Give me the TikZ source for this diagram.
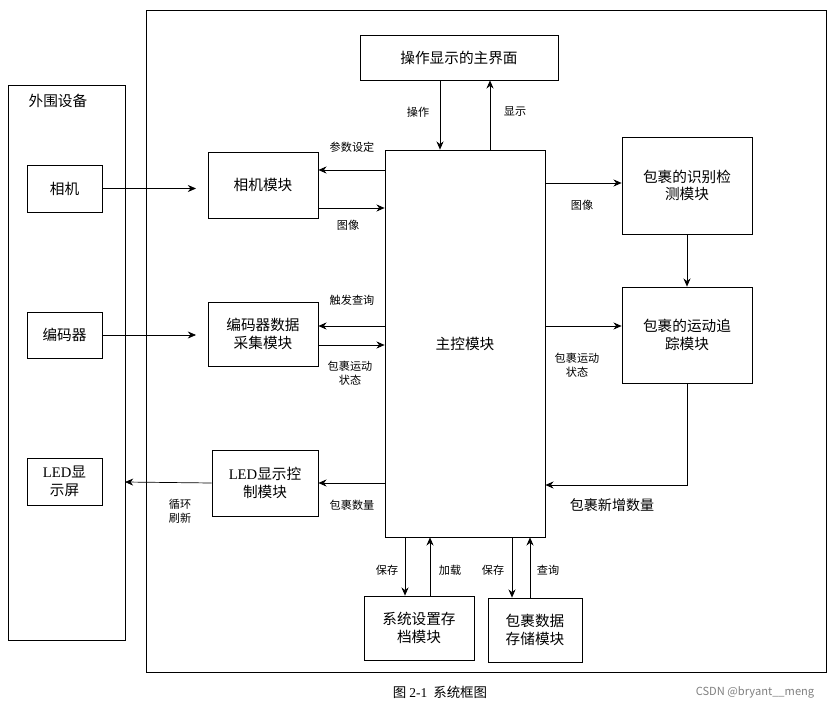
\documentclass[tikz,border=0pt]{standalone}
\usepackage{fontspec}
\setmainfont{Noto Sans CJK SC}
\newfontfamily\latin{Liberation Serif}
\usetikzlibrary{arrows.meta}
\tikzset{
  box/.style={draw, semithick, inner sep=0pt, align=center, font=\fontsize{12.5}{15}\selectfont},
  lab/.style={font=\fontsize{9.5}{12}\selectfont, align=center, inner sep=0pt},
  arr/.style={-{Stealth[length=7pt,width=6pt]}, semithick},
}
\begin{document}
\begin{tikzpicture}[x=0.03cm, y=-0.03cm]
            \useasboundingbox (0,0) rectangle (834,707);
            % frames
            \draw[semithick] (8,85) rectangle (125,640);
            \draw[semithick] (146,10) rectangle (826,672);
            \node[lab, font=\fontsize{12.5}{15}\selectfont] (peri) at (58,101) {外围设备};
            % outer devices
            \node[box, minimum width=75*0.03cm, minimum height=47*0.03cm] (cam) at (64.5,188.5) {相机};
            \node[box, minimum width=75*0.03cm, minimum height=46*0.03cm] (enc) at (64.5,335) {编码器};
            \node[box, minimum width=75*0.03cm, minimum height=47*0.03cm] (led) at (64.5,481.5) {{\latin LED}显\\示屏};
            % modules
            \node[box, minimum width=198*0.03cm, minimum height=45*0.03cm] (ui) at (459,57.5) {操作显示的主界面};
            \node[box, minimum width=160*0.03cm, minimum height=387*0.03cm] (main) at (465,343.5) {主控模块};
            \node[box, minimum width=110*0.03cm, minimum height=66*0.03cm] (cammod) at (263,185) {相机模块};
            \node[box, minimum width=110*0.03cm, minimum height=64*0.03cm] (encmod) at (263,334) {编码器数据\\采集模块};
            \node[box, minimum width=106*0.03cm, minimum height=66*0.03cm] (ledmod) at (265,483) {{\latin LED}显示控\\制模块};
            \node[box, minimum width=130*0.03cm, minimum height=97*0.03cm] (detect) at (687,185.5) {包裹的识别检\\测模块};
            \node[box, minimum width=130*0.03cm, minimum height=96*0.03cm] (track) at (687,335) {包裹的运动追\\踪模块};
            \node[box, minimum width=110*0.03cm, minimum height=64*0.03cm] (save) at (419,628) {系统设置存\\档模块};
            \node[box, minimum width=94*0.03cm, minimum height=64*0.03cm] (store) at (535,630) {包裹数据\\存储模块};
            \coordinate (bend) at (687,485);
            % connectors
            \draw[arr] (cam.east) -- (196,188.5);
            \draw[arr] (enc.east) -- (196,335);
            \draw[arr] (ledmod.west) -- (125,482);
            \draw[arr] (main.west |- 0,170) -- (cammod.east |- 0,170);
            \draw[arr] (cammod.east |- 0,208) -- (main.west |- 0,208);
            \draw[arr] (main.west |- 0,326) -- (encmod.east |- 0,326);
            \draw[arr] (encmod.east |- 0,345) -- (main.west |- 0,345);
            \draw[arr] (main.west |- ledmod.east) -- (ledmod.east);
            \draw[arr] (ui.south -| 440,0) -- (main.north -| 440,0);
            \draw[arr] (main.north -| 490,0) -- (ui.south -| 490,0);
            \draw[arr] (main.east |- 0,183) -- (detect.west |- 0,183);
            \draw[arr] (detect.south) -- (track.north);
            \draw[arr] (main.east |- 0,326) -- (track.west |- 0,326);
            \draw[arr] (track.south) -- (bend) -- (main.east |- bend);
            \draw[arr] (main.south -| 405,0) -- (save.north -| 405,0);
            \draw[arr] (save.north -| 430,0) -- (main.south -| 430,0);
            \draw[arr] (main.south -| 512,0) -- (store.north -| 512,0);
            \draw[arr] (store.north -| 530,0) -- (main.south -| 530,0);
            % labels
            \node[lab] (l1) at (352,147) {参数设定};
            \node[lab] (l2) at (348,225) {图像};
            \node[lab] (l3) at (352,300) {触发查询};
            \node[lab] (l4) at (350,373) {包裹运动\\状态};
            \node[lab] (l5) at (352,505) {包裹数量};
            \node[lab] (l6) at (180,511) {循环\\刷新};
            \node[lab] (l7) at (418,112) {操作};
            \node[lab] (l8) at (515,112) {显示};
            \node[lab] (l9) at (582,205) {图像};
            \node[lab] (l10) at (577,365) {包裹运动\\状态};
            \node[lab, font=\fontsize{12}{14}\selectfont] (l11) at (612,505) {包裹新增数量};
            \node[lab] (l12) at (387,570) {保存};
            \node[lab] (l13) at (450,570) {加载};
            \node[lab] (l14) at (493,570) {保存};
            \node[lab] (l15) at (548,570) {查询};
            \node[lab, font=\fontsize{11.5}{13}\selectfont] (cap) at (440,692) {图 {\latin 2-1}\ \ 系统框图};
            \node[lab, text=gray] (wm) at (755,692) {CSDN @bryant\_\_meng};
        \end{tikzpicture}
\end{document}
